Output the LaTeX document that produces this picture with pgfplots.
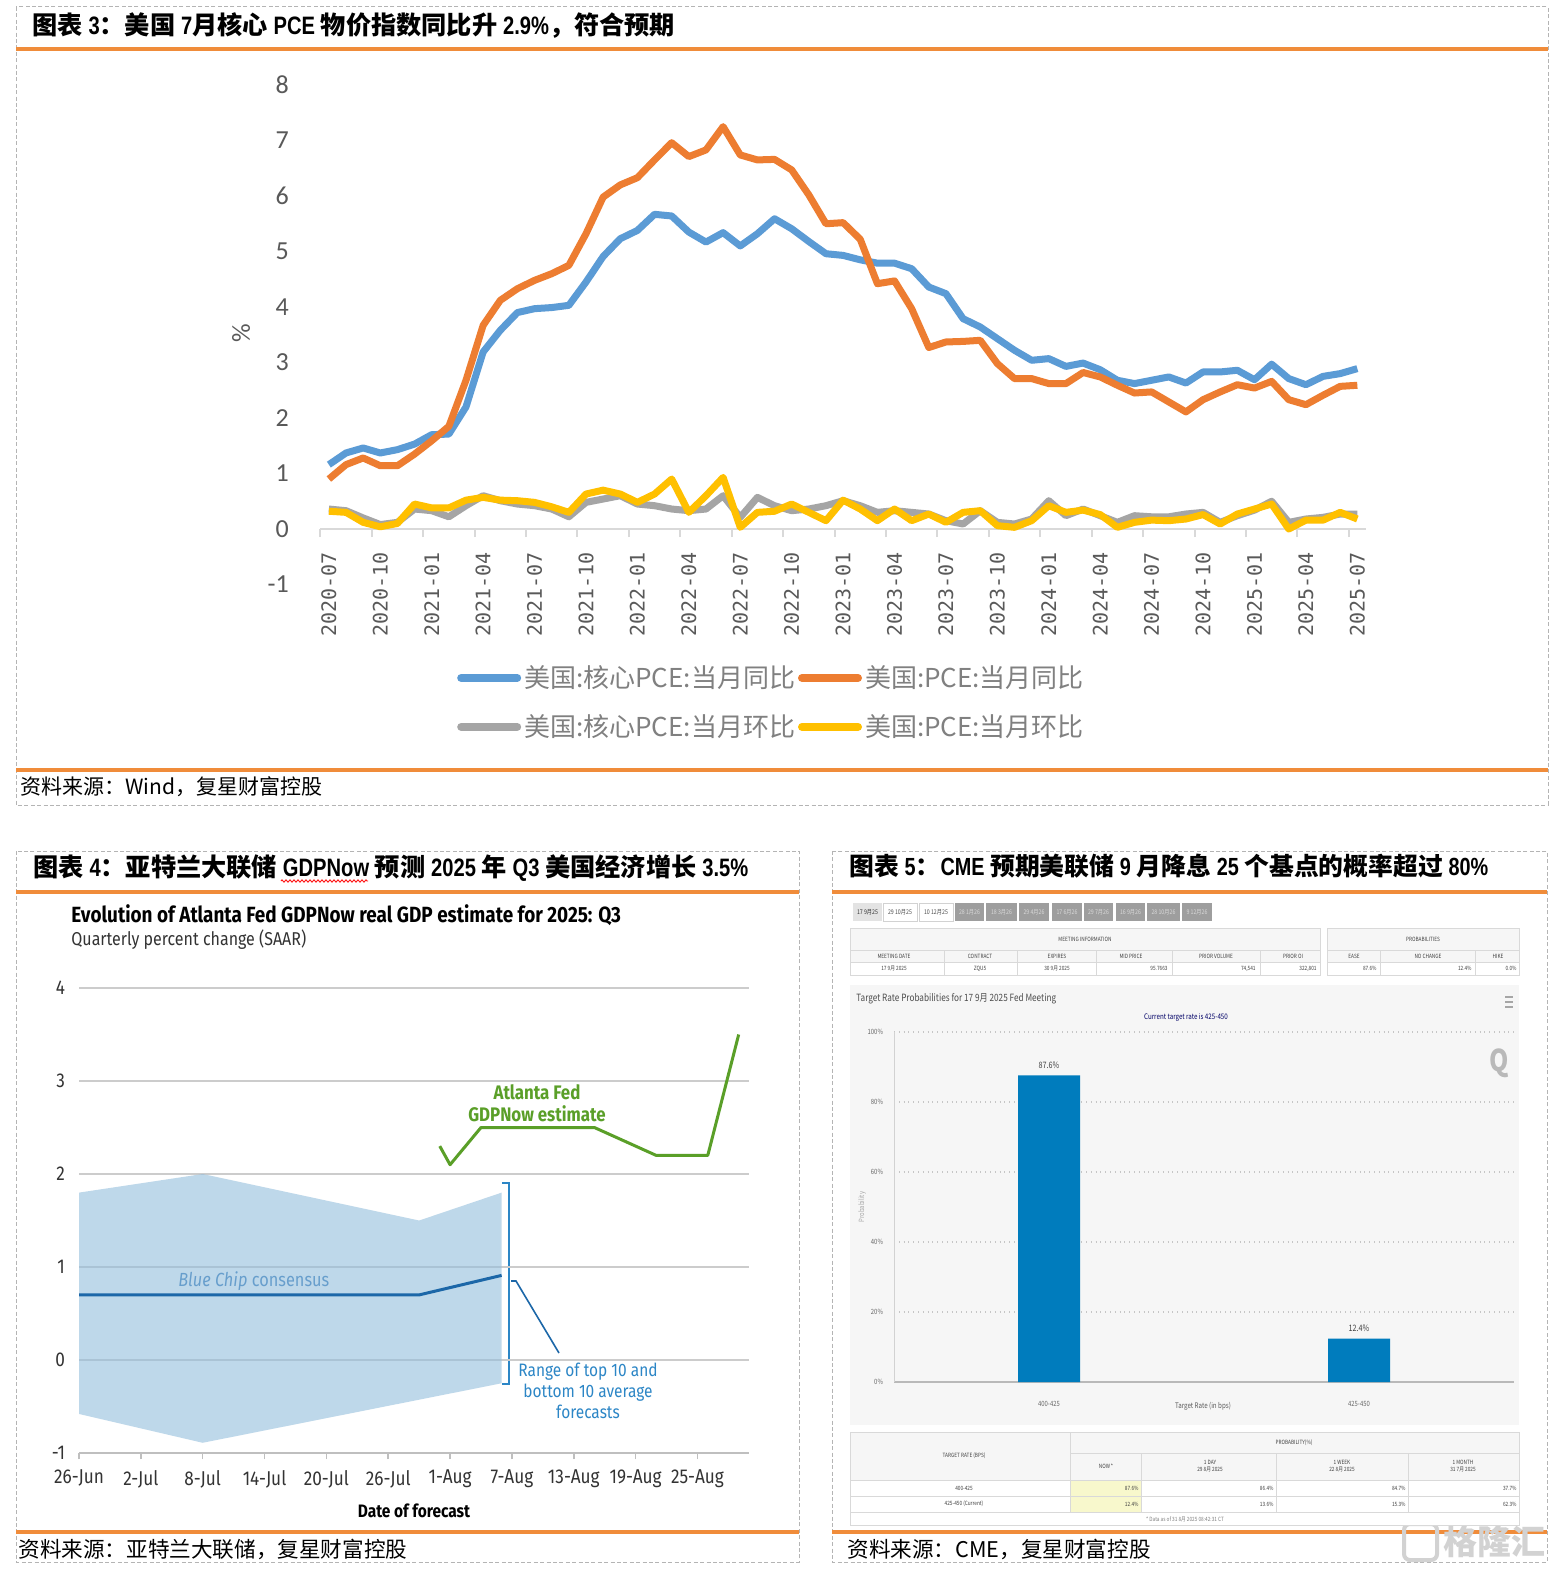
\documentclass[border=0pt]{standalone}
\usepackage{fontspec}
\usepackage{pgfplots}
\usepackage{pgfplotstable}
\pgfplotsset{compat=1.18}
\usetikzlibrary{decorations.pathmorphing}
\setmainfont{Noto Sans CJK SC}
\newfontfamily\cjk{Noto Sans CJK SC}
\newfontfamily\nar[FakeStretch=0.8]{Liberation Sans}
\newfontfamily\carl{Carlito}
\newfontfamily\dmono{DejaVu Sans Mono}
\newfontfamily\plex[FakeStretch=0.86]{Fira Sans}
\newfontfamily\cme[FakeStretch=0.82]{Noto Sans CJK SC}
\newcommand\fs[1]{\fontsize{#1pt}{#1pt}\selectfont}

\definecolor{cBlue}{HTML}{5B9BD5}
\definecolor{cOrange}{HTML}{ED7D31}
\definecolor{cGray}{HTML}{A5A5A5}
\definecolor{cYellow}{HTML}{FFC000}
\definecolor{txtGray}{HTML}{595959}
\definecolor{axGray}{HTML}{D9D9D9}
\definecolor{frameOr}{HTML}{F08C3A}
\definecolor{frameGray}{HTML}{B4B4B4}
\definecolor{gTxt}{HTML}{333333}
\definecolor{gGreen}{HTML}{5A9F28}
\definecolor{bandFill}{HTML}{94BEDC}
\definecolor{bcLine}{HTML}{1C67A8}
\definecolor{annBlue}{HTML}{2C86C6}
\definecolor{bcText}{HTML}{2570B6}
\definecolor{cmeBar}{HTML}{007CBD}
\definecolor{cmeYel}{HTML}{F8F8CC}

% monthly data, 2020-07 .. 2025-07 (m = months since 2020-07)
\pgfplotstableread{
m core pce cmom pmom
0 1.16 0.90 0.36 0.32
1 1.37 1.16 0.33 0.30
2 1.46 1.28 0.20 0.12
3 1.37 1.14 0.08 0.04
4 1.43 1.14 0.12 0.10
5 1.53 1.35 0.36 0.45
6 1.70 1.59 0.33 0.38
7 1.71 1.85 0.22 0.38
8 2.20 2.68 0.42 0.52
9 3.19 3.67 0.60 0.57
10 3.58 4.12 0.51 0.52
11 3.90 4.33 0.45 0.51
12 3.97 4.48 0.42 0.48
13 3.99 4.60 0.36 0.40
14 4.03 4.75 0.22 0.30
15 4.45 5.32 0.48 0.63
16 4.91 5.98 0.54 0.70
17 5.23 6.20 0.60 0.63
18 5.38 6.33 0.45 0.48
19 5.67 6.65 0.42 0.63
20 5.64 6.96 0.36 0.90
21 5.35 6.71 0.33 0.30
22 5.17 6.83 0.36 0.60
23 5.34 7.25 0.60 0.93
24 5.10 6.74 0.21 0.03
25 5.32 6.65 0.57 0.30
26 5.59 6.66 0.42 0.32
27 5.41 6.47 0.33 0.45
28 5.18 6.02 0.36 0.30
29 4.96 5.50 0.42 0.15
30 4.93 5.52 0.51 0.52
31 4.85 5.22 0.42 0.36
32 4.79 4.42 0.30 0.15
33 4.79 4.47 0.33 0.36
34 4.69 3.97 0.30 0.15
35 4.36 3.27 0.27 0.27
36 4.24 3.37 0.15 0.12
37 3.79 3.38 0.09 0.30
38 3.64 3.40 0.33 0.33
39 3.43 2.98 0.12 0.06
40 3.22 2.71 0.09 0.03
41 3.04 2.71 0.18 0.15
42 3.07 2.62 0.51 0.42
43 2.93 2.62 0.24 0.30
44 2.99 2.82 0.36 0.34
45 2.87 2.74 0.24 0.26
46 2.68 2.59 0.12 0.03
47 2.62 2.45 0.24 0.12
48 2.68 2.47 0.22 0.16
49 2.74 2.29 0.22 0.15
50 2.63 2.11 0.27 0.18
51 2.83 2.33 0.30 0.26
52 2.83 2.47 0.12 0.09
53 2.86 2.60 0.24 0.27
54 2.69 2.54 0.34 0.36
55 2.97 2.66 0.50 0.45
56 2.71 2.33 0.12 0.00
57 2.60 2.24 0.18 0.16
58 2.75 2.41 0.21 0.16
59 2.80 2.57 0.27 0.30
60 2.89 2.59 0.27 0.18
}\pcedata

\begin{document}
\begin{tikzpicture}
% ---------- page furniture, in pixel units of the reference ----------
\begin{scope}[x=0.5pt,y=-0.5pt]
\fill[white] (0,0) rectangle (1558,1578);
\path[use as bounding box] (0,0) rectangle (1558,1578);
\tikzset{dashbox/.style={frameGray, dash pattern=on 2pt off 1.2pt, line width=0.5pt},
         orl/.style={frameOr, line width=2pt}}
\draw[dashbox] (16,7) rectangle (1548,805);
\draw[dashbox] (16,851) rectangle (799,1562);
\draw[dashbox] (832,851) rectangle (1547,1562);
\draw[orl] (16,49) -- (1548,49);
\draw[orl] (16,770) -- (1548,770);
\draw[orl] (16,892) -- (799,892);
\draw[orl] (832,892) -- (1547,892);
\draw[orl] (16,1532) -- (799,1532);
\draw[orl] (832,1532) -- (1547,1532);

\node[anchor=west, inner sep=0] at (32,26) {\cjk\bfseries\fs{12.6}图表 {\nar 3}：美国 {\nar 7}月核心 {\nar PCE} 物价指数同比升 {\nar 2.9\%}，符合预期};
\node[anchor=west, inner sep=0] at (20,787) {\cjk\fs{10.5}资料来源：Wind，复星财富控股};
\node[anchor=west, inner sep=0] at (33,868) {\cjk\bfseries\fs{12.6}图表 {\nar 4}：亚特兰大联储 {\nar GDPNow} 预测 {\nar 2025} 年 {\nar Q3} 美国经济增长 {\nar 3.5\%}};
\node[anchor=west, inner sep=0] at (849,866) {\cjk\bfseries\fs{12.4}图表 {\nar 5}：{\nar CME} 预期美联储 {\nar 9} 月降息 {\nar 25} 个基点的概率超过 {\nar 80\%}};
\draw[red, line width=0.4pt, decorate, decoration={zigzag, amplitude=0.6pt, segment length=2pt}] (281,881) -- (368,881);
\node[anchor=west, inner sep=0] at (18,1549) {\cjk\fs{10.8}资料来源：亚特兰大联储，复星财富控股};
\node[anchor=west, inner sep=0] at (847,1549) {\cjk\fs{10.8}资料来源：CME，复星财富控股};
\draw[gray!35, line width=2pt, rounded corners=3pt] (1404,1524) rectangle (1437,1560);
\node[anchor=west, text=gray!35, inner sep=0] at (1443,1542) {\cjk\bfseries\fs{17}格隆汇};

% top chart y label
\node[rotate=90, text=txtGray] at (241,333) {\carl\fs{13}\%};

% GDPNow panel text
\node[anchor=west, inner sep=0, text=black] at (71,915) {\plex\bfseries\fs{11}Evolution of Atlanta Fed GDPNow real GDP estimate for 2025: Q3};
\node[anchor=west, inner sep=0, text=gTxt] at (71,940) {\plex\fs{9.3}Quarterly percent change (SAAR)};
\node[text=gGreen, align=center, font=\plex\bfseries\fontsize{9.8pt}{11pt}\selectfont] at (537,1103) {Atlanta Fed\\GDPNow estimate};
\node[anchor=west, text=bcText, inner sep=0] at (178,1281) {\plex\fs{9.5}{\itshape Blue Chip} consensus};
\node[text=annBlue, align=center, font=\plex\fontsize{9pt}{10.5pt}\selectfont] at (588,1391) {Range of top 10 and\\bottom 10 average\\forecasts};
\draw[annBlue, line width=1pt] (502,1183) -- (509,1183) -- (509,1384) -- (502,1384);
\draw[bcLine, line width=0.8pt] (511,1281) -- (516,1281) -- (559,1353);
\node[text=black] at (414,1511) {\plex\bfseries\fs{9}Date of forecast};

% CME panel: tabs
\foreach \xa/\xb/\lab in {853/882/{17 9月25}}
  {\fill[gray!22] (\xa,903) rectangle (\xb,921);
   \node[text=black!80] at ({(\xa+\xb)/2},912) {\cme\fs{3.2}\lab};}
\foreach \xa/\xb/\lab in {883/917/{29 10月25}, 919/953/{10 12月25}}
  {\draw[gray!35, line width=0.3pt, fill=white] (\xa,903) rectangle (\xb,921);
   \node[text=black!70] at ({(\xa+\xb)/2},912) {\cme\fs{3.2}\lab};}
\foreach \xa/\xb/\lab in {955/984/{28 1月26}, 986/1017/{18 3月26}, 1019/1049/{29 4月26}, 1052/1082/{17 6月26}, 1084/1113/{29 7月26}, 1116/1145/{16 9月26}, 1147/1180/{28 10月26}, 1182/1212/{9 12月26}}
  {\fill[black!38] (\xa,903) rectangle (\xb,921);
   \node[text=white!85!black] at ({(\xa+\xb)/2},912) {\cme\fs{3.2}\lab};}

% CME: meeting information table
\fill[gray!7] (850,928) rectangle (1320,962);
\fill[gray!7] (1327,928) rectangle (1519,962);
\draw[gray!30, line width=0.4pt] (850,928) rectangle (1320,975);
\draw[gray!30, line width=0.4pt] (850,950) -- (1320,950) (850,962) -- (1320,962);
\foreach \x in {944,1017,1096,1172,1260} \draw[gray!30, line width=0.4pt] (\x,950) -- (\x,975);
\draw[gray!30, line width=0.4pt] (1327,928) rectangle (1519,975);
\draw[gray!30, line width=0.4pt] (1327,950) -- (1519,950) (1327,962) -- (1519,962);
\foreach \x in {1380,1475} \draw[gray!30, line width=0.4pt] (\x,950) -- (\x,975);
\begin{scope}[every node/.style={text=black!75, inner sep=0, font=\cme\fs{2.9}}]
\node at (1085,939) {MEETING INFORMATION};
\node at (1423,939) {PROBABILITIES};
\node at (894,956) {MEETING DATE};
\node at (980,956) {CONTRACT};
\node at (1057,956) {EXPIRES};
\node at (1131,956) {MID PRICE};
\node at (1216,956) {PRIOR VOLUME};
\node at (1293,956) {PRIOR OI};
\node at (1354,956) {EASE};
\node at (1428,956) {NO CHANGE};
\node at (1498,956) {HIKE};
\node at (894,968.5) {17 9月 2025};
\node at (980,968.5) {ZQU5};
\node at (1057,968.5) {30 9月 2025};
\node[anchor=east] at (1168,968.5) {95.7663};
\node[anchor=east] at (1256,968.5) {74,541};
\node[anchor=east] at (1317,968.5) {322,801};
\node[anchor=east] at (1377,968.5) {87.6\%};
\node[anchor=east] at (1472,968.5) {12.4\%};
\node[anchor=east] at (1517,968.5) {0.0\%};
\end{scope}

% CME: chart area
\fill[gray!7] (850,985) rectangle (1519,1425);
\node[anchor=west, inner sep=0, text=black!70] at (856,999) {\cme\fs{5}Target Rate Probabilities for 17 9月 2025 Fed Meeting};
\node[text=black!60!blue, inner sep=0] at (1186,1017) {\cme\fs{3.8}Current target rate is 425-450};
\foreach \y in {997,1002,1007} \draw[gray!70, line width=0.8pt] (1505,\y) -- (1513,\y);
\node[text=gray!55, inner sep=0] at (1499,1063) {\cme\bfseries\fs{15}Q};
\node[rotate=90, text=gray!70, inner sep=0] at (862,1207) {\cme\fs{3.6}Probability};
\node[text=gray!70!black, inner sep=0] at (1203,1406) {\cme\fs{3.8}Target Rate (in bps)};

% CME: lower table
\fill[white] (850,1432) rectangle (1519,1525);
\fill[gray!7] (850,1432) rectangle (1519,1480);
\fill[cmeYel] (1070,1480) rectangle (1141,1512);
\draw[gray!30, line width=0.4pt] (850,1432) rectangle (1519,1525);
\draw[gray!30, line width=0.4pt] (1070,1453) -- (1519,1453) (850,1480) -- (1519,1480) (850,1496) -- (1519,1496) (850,1512) -- (1519,1512);
\draw[gray!30, line width=0.4pt] (1070,1432) -- (1070,1512);
\foreach \x in {1141,1276,1408} \draw[gray!30, line width=0.4pt] (\x,1453) -- (\x,1512);
\begin{scope}[every node/.style={text=black!75, inner sep=0, align=center, font=\cme\fontsize{2.9pt}{3.6pt}\selectfont}]
\node at (964,1456) {TARGET RATE (BPS)};
\node at (1294,1443) {PROBABILITY(\%)};
\node at (1106,1466) {NOW *};
\node at (1210,1466) {1 DAY\\29 8月 2025};
\node at (1342,1466) {1 WEEK\\22 8月 2025};
\node at (1463,1466) {1 MONTH\\31 7月 2025};
\node at (964,1488) {400-425};
\node at (964,1504) {425-450 (Current)};
\node[anchor=east] at (1139,1488) {87.6\%};
\node[anchor=east] at (1274,1488) {86.4\%};
\node[anchor=east] at (1406,1488) {84.7\%};
\node[anchor=east] at (1517,1488) {37.7\%};
\node[anchor=east] at (1139,1504) {12.4\%};
\node[anchor=east] at (1274,1504) {13.6\%};
\node[anchor=east] at (1406,1504) {15.3\%};
\node[anchor=east] at (1517,1504) {62.3\%};
\node[text=gray] at (1185,1519) {* Data as of 31 8月 2025 08:42:31 CT};
\end{scope}
\end{scope}

% ---------- chart 3: PCE ----------
\begin{axis}[
  at={(160.15pt,-292.25pt)}, anchor=south west, scale only axis,
  width=522.8pt, height=249.75pt,
  xmin=-0.5, xmax=60.5, ymin=-1, ymax=8,
  axis x line*=middle, axis y line*=left,
  hide obscured x ticks=false, hide obscured y ticks=false,
  y axis line style={draw=none},
  x axis line style={color=axGray, line width=1pt},
  xtick={0,3,...,60},
  xticklabels={2020-07,2020-10,2021-01,2021-04,2021-07,2021-10,2022-01,2022-04,2022-07,2022-10,2023-01,2023-04,2023-07,2023-10,2024-01,2024-04,2024-07,2024-10,2025-01,2025-04,2025-07},
  major x tick style={draw=none},
  minor xtick={-0.5,2.5,...,59.5},
  minor x tick style={color=axGray, line width=1pt},
  minor tick length=4pt, tick align=outside,
  xticklabel style={font=\dmono\fs{10}, text=txtGray, yshift=-4pt, rotate=90, anchor=east},
  ytick={-1,0,...,8}, yticklabels={-1,0,1,2,3,4,5,6,7,8},
  ytick style={draw=none},
  yticklabel style={font=\carl\fs{13}, text=txtGray, xshift=-8pt},
  legend columns=2,
  legend style={at={(axis description cs:0.432,-0.236)}, anchor=center, draw=none, fill=none,
    font=\cjk\fs{13}, text=gray, row sep=9pt, /tikz/column sep=0pt,
    nodes={inner sep=1.5pt}},
  legend image code/.code={\draw[#1, line width=4pt, line cap=round] (1pt,0pt) -- (29pt,0pt);},
]
\addplot[cBlue, line width=3.5pt, line join=round] table[x=m, y=core] {\pcedata};
\addlegendentry{美国:核心PCE:当月同比}
\addplot[cOrange, line width=3.5pt, line join=round] table[x=m, y=pce] {\pcedata};
\addlegendentry{美国:PCE:当月同比}
\addplot[cGray, line width=3.5pt, line join=round] table[x=m, y=cmom] {\pcedata};
\addlegendentry{美国:核心PCE:当月环比}
\addplot[cYellow, line width=3.5pt, line join=round] table[x=m, y=pmom] {\pcedata};
\addlegendentry{美国:PCE:当月环比}
\end{axis}

% ---------- chart 4: GDPNow ----------
\begin{axis}[
  at={(39.5pt,-726.5pt)}, anchor=south west, scale only axis,
  width=335pt, height=232.5pt,
  xmin=0, xmax=65, ymin=-1, ymax=4,
  axis x line*=bottom, axis y line*=left,
  y axis line style={draw=none},
  x axis line style={color=gray!50, line width=1pt},
  xtick={0,6,...,60},
  xticklabels={26-Jun,2-Jul,8-Jul,14-Jul,20-Jul,26-Jul,1-Aug,7-Aug,13-Aug,19-Aug,25-Aug},
  xtick style={color=gray!50, line width=0.8pt}, tick align=outside, major tick length=3pt,
  ytick={-1,0,...,4}, yticklabels={-1,0,1,2,3,4},
  ytick style={draw=none},
  ymajorgrids, grid style={color=gray!40, line width=1pt},
  xticklabel style={font=\plex\fs{10}, text=gTxt, yshift=-2pt},
  yticklabel style={font=\plex\fs{10}, text=gTxt, xshift=-0.5pt},
]
\addplot[fill=bandFill, fill opacity=0.6, draw=none] coordinates
  {(0,1.8) (12,2.0) (33,1.5) (41,1.8) (41,-0.25) (12,-0.89) (0,-0.58)};
\addplot[bcLine, line width=1.5pt] coordinates {(0,0.7) (33,0.7) (41,0.91)};
\addplot[gGreen, line width=1.5pt, line join=round] coordinates
  {(35,2.3) (36,2.1) (39,2.5) (50,2.5) (56,2.2) (61,2.2) (64,3.5)};
\end{axis}

% ---------- chart 5: CME FedWatch ----------
\begin{axis}[
  at={(447pt,-691pt)}, anchor=south west, scale only axis,
  width=310pt, height=175pt,
  xmin=-0.5, xmax=1.5, ymin=0, ymax=100,
  ybar, bar width=31pt,
  axis x line*=bottom, axis y line*=left,
  x axis line style={color=gray!55, line width=1pt},
  y axis line style={color=gray!35, line width=0.4pt},
  xtick={0,1}, xticklabels={400-425,425-450},
  ytick={0,20,...,100}, yticklabels={0\%,20\%,40\%,60\%,80\%,100\%},
  tick style={draw=none},
  ymajorgrids, grid style={color=gray!45, dotted, line width=0.6pt},
  xticklabel style={font=\cme\fs{3.6}, text=gray!80!black, yshift=-2pt},
  yticklabel style={font=\cme\fs{3.6}, text=gray!80!black, xshift=-2pt},
  nodes near coords={\pgfmathprintnumber[fixed,precision=1,fixed zerofill,assume math mode=true]{\pgfplotspointmeta}\%},
  nodes near coords style={font=\cme\fs{4.4}, text=black!75},
]
\addplot[fill=cmeBar, draw=none] coordinates {(0,87.6) (1,12.4)};
\end{axis}
\end{tikzpicture}
\end{document}
